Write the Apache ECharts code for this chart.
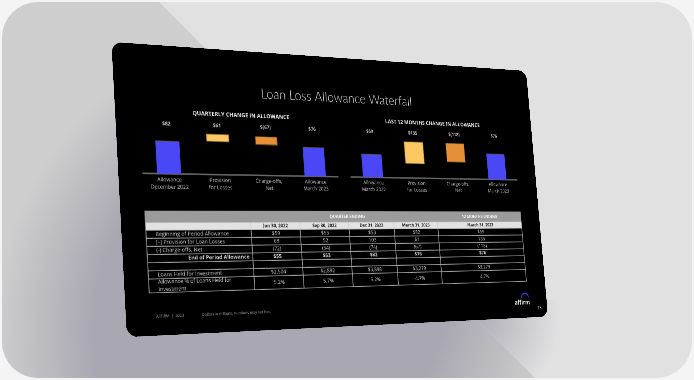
<!DOCTYPE html>
<html><head><meta charset="utf-8">
<script src="https://cdn.jsdelivr.net/npm/echarts@6/dist/echarts.min.js"></script>
<style>
html,body{margin:0;padding:0;background:#f4f4f4;width:694px;height:380px;overflow:hidden}
#card{position:absolute;left:2px;top:2px;width:690px;height:376px;border-radius:36px;overflow:hidden;background:#e1e1e1}
#bg{position:absolute;left:-2px;top:-2px}
#wrap{position:absolute;left:0;top:0;width:694px;height:380px;filter:blur(0.35px)}
#slide{position:absolute;left:0;top:0;width:840px;height:472px;transform-origin:0 0;background:#000;border-radius:18px;overflow:hidden}
#chart{width:840px;height:472px}
</style></head><body>
<div id="card">
<svg id="bg" width="694" height="380">
<defs>
<radialGradient id="g1" cx="300" cy="330" r="305" gradientUnits="userSpaceOnUse"><stop offset="0.68" stop-color="#a9a8b2" stop-opacity="1"/><stop offset="1" stop-color="#a9a8b2" stop-opacity="0"/></radialGradient>
<linearGradient id="g2" x1="440" y1="340" x2="525" y2="372" gradientUnits="userSpaceOnUse"><stop offset="0" stop-color="#c8c8c8" stop-opacity="0"/><stop offset="1" stop-color="#c8c8c8" stop-opacity="1"/></linearGradient>
<radialGradient id="g3" cx="470" cy="318" r="90" gradientUnits="userSpaceOnUse"><stop offset="0.1" stop-color="#b0afb9"/><stop offset="1" stop-color="#e1e1e1"/></radialGradient>
</defs>
<polygon points="0,0 157,0 537,380 0,380" fill="#cecece"/>
<polygon points="0,0 157,0 537,380 0,380" fill="url(#g1)"/>
<polygon points="400,243 537,380 400,380" fill="url(#g2)"/>
<polygon points="457,300 600,300 600,443" fill="url(#g3)"/>
</svg>
</div>
<div id="wrap"><div id="slide"><div id="chart"></div></div></div>
<script>
const slideTitle = 'Loan Loss Allowance Waterfall';
const quarterTitle = 'QUARTERLY CHANGE IN ALLOWANCE';
const yearTitle = 'LAST 12 MONTHS CHANGE IN ALLOWANCE';

const quarterCategories = ['Allowance\nDecember 2022', 'Provision\nfor Losses', 'Charge-offs,\nNet', 'Allowance\nMarch 2023'];
const quarterLabels = ['$82', '$61', '$(67)', '$76'];
const quarterBase = [0, 84, 80, 0];
const quarterTotals = [82, 0, 0, 77];
const quarterProvision = [0, 20, 0, 0];
const quarterChargeoffs = [0, 0, 22, 0];

const yearCategories = ['Allowance\nMarch 2022', 'Provision\nfor Losses', 'Charge-offs,\nNet', 'Allowance\nMarch 2023'];
const yearLabels = ['$59', '$135', '$(118)', '$76'];
const yearBase = [0, 37, 44, 0];
const yearTotals = [59, 0, 0, 69];
const yearProvision = [0, 58, 0, 0];
const yearChargeoffs = [0, 0, 51, 0];

const groupHeaders = ['QUARTER ENDING', '12 MONTHS ENDING'];
const columnHeaders = ['Jun 30, 2022', 'Sep 30, 2022', 'Dec 31, 2022', 'March 31, 2023', 'March 31, 2023'];
const rowBeginning = ['Beginning of Period Allowance', '$59', '$55', '$53', '$82', '$59'];
const rowProvision = ['(+) Provision for Loan Losses', '68', '52', '103', '61', '135'];
const rowChargeoffs = ['(-) Charge-offs, Net', '(72)', '(54)', '(74)', '(67)', '(118)'];
const rowEnding = ['End of Period Allowance', '$55', '$53', '$82', '$76', '$76'];
const rowBlank = ['', '', '', '', '', ''];
const rowLoans = ['Loans Held for Investment', '$2,504', '$2,892', '$3,898', '$3,279', '$3,279'];
const rowPercent = ['Allowance % of Loans Held for\nInvestment', '5.2%', '5.7%', '5.2%', '4.7%', '4.7%'];
const footerLeft = 'AFFIRM  |  2023';
const footerNote = 'Dollars in millions, numbers may not foot';
const logoText = 'affirm';
const pageNumber = '18';

// layout
const W = 840, H = 472;
const corners = [[111.5,42],[526,71],[548,316.5],[127,337]];
(function(){
  const [[x0,y0],[x1,y1],[x2,y2],[x3,y3]] = corners;
  const dx1=x1-x2, dx2=x3-x2, sx=x0-x1+x2-x3, dy1=y1-y2, dy2=y3-y2, sy=y0-y1+y2-y3;
  const det=dx1*dy2-dx2*dy1, g=(sx*dy2-dx2*sy)/det, h=(dx1*sy-sx*dy1)/det;
  const a=x1-x0+g*x1, b=x3-x0+h*x3, c=x0, d=y1-y0+g*y1, e=y3-y0+h*y3, f=y0;
  document.getElementById('slide').style.transform =
    'matrix3d('+[a/W,d/W,0,g/W, b/H,e/H,0,h/H, 0,0,1,0, c,f,0,1].join(',')+')';
})();

const colWidths = [187,93,97,93,94,191];
const rowHeights = [19,12,13,13,13,13,13,13,22];
const colEdges = colWidths.reduce((s,w)=>(s.push(s[s.length-1]+w),s),[0]);
const rowEdges = rowHeights.reduce((s,w)=>(s.push(s[s.length-1]+w),s),[0]);
const bodyRows = [rowBeginning,rowProvision,rowChargeoffs,rowEnding,rowBlank,rowLoans,rowPercent];

const cells = [];
cells.push({c0:0,c1:1,r:0,text:'',kind:'group'});
cells.push({c0:1,c1:5,r:0,text:groupHeaders[0],kind:'group'});
cells.push({c0:5,c1:6,r:0,text:groupHeaders[1],kind:'group'});
cells.push({c0:0,c1:1,r:1,text:'',kind:'head'});
columnHeaders.forEach((t,i)=>cells.push({c0:i+1,c1:i+2,r:1,text:t,kind:'head'}));
bodyRows.forEach((row,ri)=>row.forEach((t,ci)=>cells.push({c0:ci,c1:ci+1,r:ri+2,text:t,
  kind: ri===3 ? (ci===0?'endLabel':'endVal') : (ci===0?'label':'val')})));

function renderCell(params, api){
  const cell = cells[params.dataIndex];
  const p0 = api.coord([colEdges[cell.c0], rowEdges[cell.r]]);
  const p1 = api.coord([colEdges[cell.c1], rowEdges[cell.r+1]]);
  const w=p1[0]-p0[0], hh=p1[1]-p0[1];
  const k=cell.kind;
  const fill = k==='group'?'#9b9b9b':k==='head'?'#e2e2e2':'#000';
  const stroke = k==='group'?'#9b9b9b':k==='head'?'#c8c8c8':'#b8b8b8';
  const color = k==='group'?'#f4f4f4':k==='head'?'#222':'#d0d0d0';
  const bold = k==='group'||k==='head'||k==='endLabel'||k==='endVal';
  let tx=p0[0]+w/2, align='center';
  if(k==='label'){tx=p0[0]+16;align='left';}
  if(k==='endLabel'){tx=p1[0]-6;align='right';}
  return {type:'group',children:[
    {type:'rect',shape:{x:p0[0],y:p0[1],width:w,height:hh},style:{fill,stroke,lineWidth:1.2}},
    {type:'text',style:{x:tx,y:p0[1]+hh/2,text:cell.text,fill:color,align,verticalAlign:'middle',
      font:(bold?'bold ':'')+(k==='group'||k==='head'?'8px':'9.2px')+' "Open Sans", sans-serif',lineHeight:12}}
  ]};
}

const BLUE='#4a48f6', YEL='#fdc862', ORG='#e58f38';
function gridRect(u0,u1){return {left:u0*W,width:(u1-u0)*W,top:0.2562*H,height:(0.45-0.2562)*H,containLabel:false};}
function xAxis(cats,i){return {type:'category',gridIndex:i,data:cats,
  axisLine:{lineStyle:{color:'#6a6a6a',width:2.5}},axisTick:{show:false},
  axisLabel:{color:'#c0c0c0',fontSize:9,lineHeight:12,margin:4,interval:0,fontFamily:'"Open Sans", sans-serif'}};}
function yAxis(max,i){return {type:'value',gridIndex:i,min:0,max,show:false};}
function barSeries(i,base,totals,prov,chg,labels,labelY){
  const common={type:'bar',xAxisIndex:i,yAxisIndex:i,stack:'s'+i,barWidth:42};
  return [
    {...common,data:base,itemStyle:{color:'transparent'},silent:true},
    {...common,data:totals,itemStyle:{color:BLUE}},
    {...common,data:prov,itemStyle:{color:YEL,borderColor:'#6b5a30',borderWidth:1}},
    {...common,data:chg,itemStyle:{color:ORG,borderColor:'#6b4a20',borderWidth:1}},
    {type:'scatter',xAxisIndex:i,yAxisIndex:i,symbolSize:0,data:labels.map(()=>labelY),
     label:{show:true,position:'inside',color:'#eee',fontWeight:'bold',fontSize:8.5,fontFamily:'"Open Sans", sans-serif',
       formatter:p=>labels[p.dataIndex]}}
  ];
}
function txt(text,u,v,opt){return {left:u*W,top:v*H,text,textAlign:'center',textVerticalAlign:'middle',
  textStyle:Object.assign({color:'#e8e8e8',fontSize:9,fontWeight:'normal',fontFamily:'"Open Sans", sans-serif'},opt||{})};}

const chart = echarts.init(document.getElementById('chart'),null,{devicePixelRatio:2});
chart.setOption({
  backgroundColor:'#000',animation:false,
  title:[
    txt(slideTitle,0.49,0.1425,{fontSize:23.5,fontFamily:'Lato, sans-serif',fontWeight:300,color:'#d8d8d8'}),
    txt(quarterTitle,0.2615,0.2251,{fontSize:9.9,fontWeight:'bold'}),
    txt(yearTitle,0.725,0.2254,{fontSize:10,fontWeight:'bold'}),
    txt(footerLeft,0.0827,0.9259,{fontSize:6.5,color:'#aaa'}),
    txt(footerNote,0.2233,0.9266,{fontSize:6.5,color:'#aaa'}),
    txt(logoText,0.9252,0.9301,{fontSize:11.5,fontWeight:'bold',color:'#e8e8e8'}),
    txt(pageNumber,0.972,0.9540,{fontSize:9,color:'#ccc'})
  ],
  grid:[gridRect(0.0496,0.4802),gridRect(0.5116,0.9462),
    {left:0.049*W,width:colEdges[6],top:0.5791*H,height:rowEdges[9]}],
  xAxis:[xAxis(quarterCategories,0),xAxis(yearCategories,1),
    {type:'value',gridIndex:2,min:0,max:colEdges[6],show:false}],
  yAxis:[yAxis(140,0),yAxis(131,1),
    {type:'value',gridIndex:2,min:0,max:rowEdges[9],inverse:true,show:false}],
  series:[
    ...barSeries(0,quarterBase,quarterTotals,quarterProvision,quarterChargeoffs,quarterLabels,125),
    ...barSeries(1,yearBase,yearTotals,yearProvision,yearChargeoffs,yearLabels,117),
    {type:'custom',coordinateSystem:'cartesian2d',xAxisIndex:2,yAxisIndex:2,clip:false,
     data:cells.map((c,i)=>[i]),encode:{x:[],y:[]},renderItem:renderCell}
  ],
  graphic:[{type:'arc',left:0.938*W-9,top:0.899*H,
    shape:{cx:9,cy:9,r:8,startAngle:Math.PI,endAngle:2*Math.PI},
    style:{fill:'none',stroke:'#3c3af8',lineWidth:2}}]
});
</script>
</body></html>
